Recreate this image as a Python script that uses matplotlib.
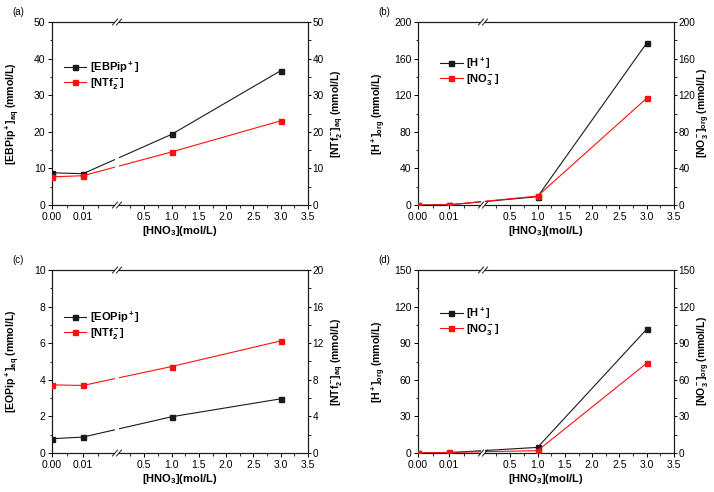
import numpy as np
import matplotlib
matplotlib.use('Agg')
import matplotlib.pyplot as plt
from matplotlib.patches import Rectangle
from matplotlib.ticker import MultipleLocator, FixedLocator

plt.rcParams['font.family'] = ['Liberation Sans', 'DejaVu Sans']
plt.rcParams['mathtext.fontset'] = 'custom'
plt.rcParams['mathtext.rm'] = 'Liberation Sans:bold'
plt.rcParams['mathtext.bf'] = 'Liberation Sans:bold'
plt.rcParams['mathtext.it'] = 'Liberation Sans:bold'
plt.rcParams['mathtext.default'] = 'bf'

# data
hno3 = [0.0, 0.01, 1.0, 3.0]

ebpip_aq = [8.8, 8.55, 19.3, 36.7]
ntf2_aq_a = [7.7, 8.0, 14.5, 23.0]

h_org_b = [0.0, 0.2, 9.1, 177.0]
no3_org_b = [0.0, 0.2, 9.8, 116.7]

eopip_aq = [0.78, 0.87, 1.98, 2.96]
ntf2_aq_c = [7.45, 7.38, 9.45, 12.25]

h_org_d = [0.0, 0.3, 4.6, 101.5]
no3_org_d = [0.0, 0.5, 1.9, 73.6]

xticks = [0.0, 0.01, 0.5, 1.0, 1.5, 2.0, 2.5, 3.0, 3.5]
xticklabels = ['0.00', '0.01', '0.5', '1.0', '1.5', '2.0', '2.5', '3.0', '3.5']
xminor = [0.005, 0.015, 0.25, 0.75, 1.25, 1.75, 2.25, 2.75, 3.25]

# broken x axis: two linear pieces glued at u = BRK
BRK = 0.254
XP = np.array([0.0, 0.021, 0.5, 3.5])
UP = np.array([0.0, BRK, BRK + 0.5 / 3.5 * (1 - BRK), 1.0])


def fwd(x):
    x = np.asarray(x, dtype=float)
    return np.interp(x, XP, UP, left=0.0, right=1.0) + np.where(x > 3.5, (x - 3.5) * (1 - BRK) / 3.5, 0) + np.where(x < 0, x * BRK / 0.021, 0)


def inv(u):
    u = np.asarray(u, dtype=float)
    return np.interp(u, UP, XP, left=0.0, right=3.5) + np.where(u > 1, (u - 1) * 3.5 / (1 - BRK), 0) + np.where(u < 0, u * 0.021 / BRK, 0)


BLACK = '#1a1a1a'
RED = '#ff1010'


def add_break(ax, wpx, hpx):
    ax.add_patch(Rectangle((BRK - 2.0 / wpx, -1.5 / hpx), 4.0 / wpx, 1 + 3.0 / hpx,
                           transform=ax.transAxes, fc='white', ec='none',
                           zorder=5, clip_on=False))
    for y in (0.0, 1.0):
        for off in (-2.0, 2.0):
            ax.plot([BRK + (off - 2.5) / wpx, BRK + (off + 2.5) / wpx],
                    [y - 3.0 / hpx, y + 3.0 / hpx], color=BLACK, lw=0.7,
                    transform=ax.transAxes, clip_on=False, zorder=6)


def draw_panel(fig, rect, tag, left_vals, right_vals, left_lim, right_lim,
               left_step, right_step, left_label, right_label, names, leg_xy):
    wpx = rect[2] * 714
    hpx = rect[3] * 492

    ax = fig.add_axes(rect)
    ax.set_xscale('function', functions=(fwd, inv))
    ax2 = ax.twinx()

    ax.plot(hno3, left_vals, color=BLACK, lw=0.8, marker='s', ms=3.6, zorder=3)
    ax2.plot(hno3, right_vals, color=RED, lw=0.8, marker='s', ms=3.6, zorder=3)

    ax.set_xlim(0, 3.5)
    ax.set_ylim(*left_lim)
    ax2.set_ylim(*right_lim)

    ax.xaxis.set_major_locator(FixedLocator(xticks))
    ax.set_xticklabels(xticklabels)
    ax.xaxis.set_minor_locator(FixedLocator(xminor))
    ax.yaxis.set_major_locator(MultipleLocator(left_step))
    ax.yaxis.set_minor_locator(MultipleLocator(left_step / 2))
    ax2.yaxis.set_major_locator(MultipleLocator(right_step))
    ax2.yaxis.set_minor_locator(MultipleLocator(right_step / 2))

    for a in (ax, ax2):
        a.tick_params(which='major', direction='out', length=2.8, width=0.7,
                      labelsize=7.5, pad=2)
        a.tick_params(which='minor', direction='out', length=1.8, width=0.6)
        for s in a.spines.values():
            s.set_linewidth(0.8)
            s.set_color(BLACK)
    ax.tick_params(which='both', top=False, right=False)
    ax2.tick_params(which='both', top=False, left=False)
    ax2.tick_params(which='major', length=2.2, pad=1.2, labelsize=7.2)

    ax.set_xlabel(r'[HNO$_3$](mol/L)', fontsize=8, fontweight='bold', labelpad=2)
    ax.set_ylabel(left_label, fontsize=7.6, fontweight='bold')
    ax2.set_ylabel(right_label, fontsize=7.5, fontweight='bold')
    ax.yaxis.set_label_coords(-31 / wpx, 0.5)
    ax2.yaxis.set_label_coords(1 + 22 / wpx, 0.5)

    add_break(ax2, wpx, hpx)

    h1 = ax.get_lines()[0]
    h2 = ax2.get_lines()[0]
    ax2.legend([h1, h2], names, loc='upper left', bbox_to_anchor=leg_xy,
               frameon=False, handlelength=2.0, handletextpad=0.3,
               labelspacing=0.1, borderaxespad=0,
               prop={'size': 8, 'weight': 'bold'})

    fig.text(rect[0] - 40 / 714, rect[1] + rect[3] + 10 / 492, tag,
             fontsize=7, va='center', ha='left')
    return ax, ax2


fig = plt.figure(figsize=(7.14, 4.92), dpi=100)

wl = 256 / 714
wr = 256 / 714
h = 183 / 492
top_b = 1 - 205 / 492
bot_b = 1 - 453 / 492

draw_panel(fig, [52 / 714, top_b, wl, h], '(a)', ebpip_aq, ntf2_aq_a,
           (0, 50), (0, 50), 10, 10,
           r'[EBPip$^+$]$_{aq}$ (mmol/L)', r'[NTf$_2^-$]$_{aq}$ (mmol/L)',
           [r'[EBPip$^+$]', r'[NTf$_2^-$]'], (0.03, 0.82))

draw_panel(fig, [418 / 714, top_b, wr, h], '(b)', h_org_b, no3_org_b,
           (0, 200), (0, 200), 40, 40,
           r'[H$^+$]$_{org}$ (mmol/L)', r'[NO$_3^-$]$_{org}$ (mmol/L)',
           [r'[H$^+$]', r'[NO$_3^-$]'], (0.07, 0.84))

draw_panel(fig, [52 / 714, bot_b, wl, h], '(c)', eopip_aq, ntf2_aq_c,
           (0, 10), (0, 20), 2, 4,
           r'[EOPip$^+$]$_{aq}$ (mmol/L)', r'[NTf$_2^-$]$_{aq}$ (mmol/L)',
           [r'[EOPip$^+$]', r'[NTf$_2^-$]'], (0.03, 0.81))

draw_panel(fig, [418 / 714, bot_b, wr, h], '(d)', h_org_d, no3_org_d,
           (0, 150), (0, 150), 30, 30,
           r'[H$^+$]$_{org}$ (mmol/L)', r'[NO$_3^-$]$_{org}$ (mmol/L)',
           [r'[H$^+$]', r'[NO$_3^-$]'], (0.07, 0.83))

fig.savefig('out.png', dpi=100)
